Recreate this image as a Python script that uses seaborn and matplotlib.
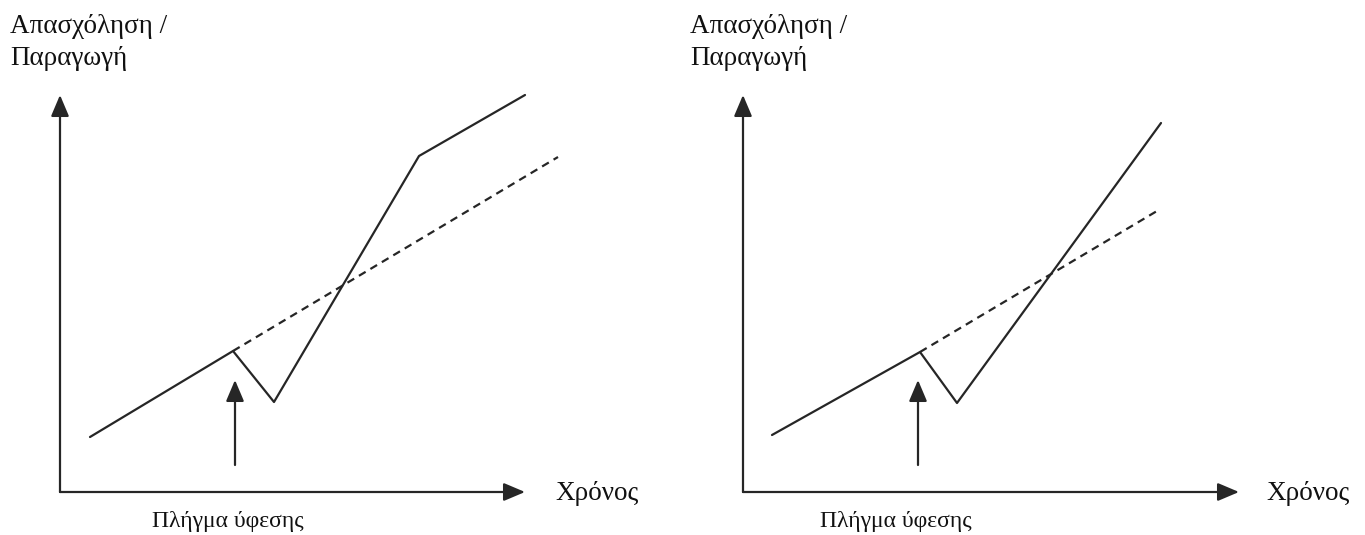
import numpy as np
import pandas as pd
import seaborn as sns
import matplotlib.pyplot as plt

# data: time / value measured from each panel's origin
left_time = [30, 173, 214, 359, 465]
left_value = [55, 141, 90, 336, 397]
left_trend_time = [173, 498]
left_trend_value = [141, 335]

right_time = [29, 177, 214, 418]
right_value = [57, 140, 89, 369]
right_trend_time = [177, 414]
right_trend_value = [140, 281]

shock_time = 175
shock_value = [27, 112]

y_label = ["Απασχόληση /", "Παραγωγή"]
x_label = "Χρόνος"
shock_label = "Πλήγμα ύφεσης"

W, H = 1365, 535
sns.set_theme(style="white")
plt.rcParams["font.family"] = ["Liberation Serif", "DejaVu Serif"]

fig = plt.figure(figsize=(W / 100, H / 100), dpi=100)
ink = "#262626"


def panel(ox, oy, t, v, tt, tv, x_end, y_end, label_x, xlab_x, shock_x):
    ax = fig.add_axes([ox / W, (H - oy) / H, 520 / W, 420 / H])
    ax.set_xlim(0, 520)
    ax.set_ylim(0, 420)
    ax.axis("off")

    sns.lineplot(x=t, y=v, ax=ax, color=ink, lw=1.6, sort=False,
                 estimator=None, clip_on=False)
    sns.lineplot(x=tt, y=tv, ax=ax, color=ink, lw=1.6, sort=False,
                 estimator=None, linestyle=(0, (3.5, 2.5)), clip_on=False)

    head = dict(arrowstyle="-|>,head_length=1.3,head_width=0.55",
                color=ink, lw=1.6, mutation_scale=10, shrinkA=0, shrinkB=0)
    ax.annotate("", xy=(0, y_end), xytext=(0, 0), arrowprops=head)
    ax.annotate("", xy=(x_end, 0), xytext=(0, 0), arrowprops=head)
    ax.annotate("", xy=(shock_time, shock_value[1]),
                xytext=(shock_time, shock_value[0]), arrowprops=head)

    fs = 19.5
    fig.text(label_x / W, 1 - 33 / H, y_label[0], fontsize=fs, va="baseline", color="#111")
    fig.text(label_x / W, 1 - 65 / H, y_label[1], fontsize=fs, va="baseline", color="#111")
    fig.text(xlab_x / W, 1 - 500 / H, x_label, fontsize=fs, va="baseline", color="#111")
    fig.text(shock_x / W, 1 - 527 / H, shock_label, fontsize=17, va="baseline",
             ha="center", color="#111")


panel(60, 492, left_time, left_value, left_trend_time, left_trend_value,
      465, 397, 10, 555, 228)
panel(743, 492, right_time, right_value, right_trend_time, right_trend_value,
      496, 397, 690, 1266, 896)

fig.savefig("out.png", dpi=100)
